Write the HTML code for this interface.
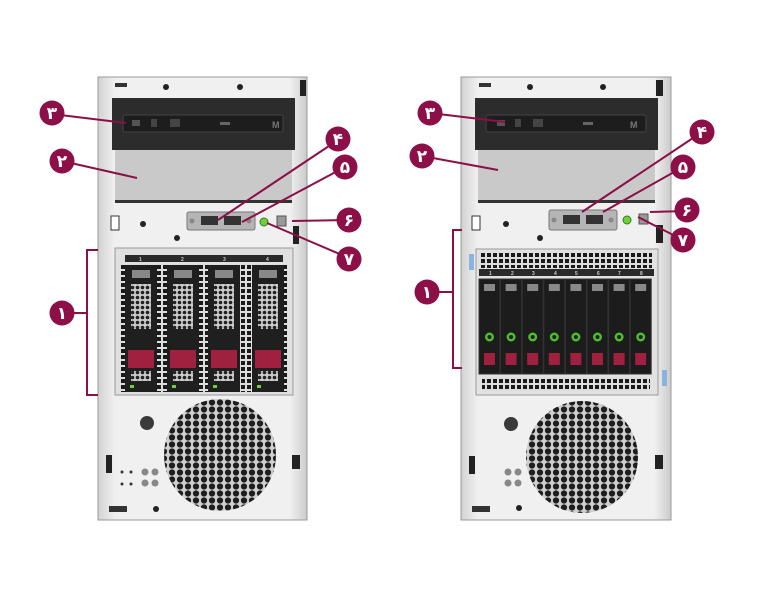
<!DOCTYPE html>
<html><head><meta charset="utf-8"><style>
html,body{margin:0;padding:0;background:#fff;width:768px;height:614px;overflow:hidden}
svg text{font-family:"Liberation Sans","DejaVu Sans",sans-serif;font-weight:bold}
</style></head><body>
<svg width="768" height="614" viewBox="0 0 768 614" xmlns="http://www.w3.org/2000/svg">
<defs>
<pattern id="fanholes" width="8" height="7" patternUnits="userSpaceOnUse">
<rect width="8" height="7" fill="#cfcfcf"/>
<circle cx="4" cy="3.5" r="3.1" fill="#1e1e1e"/>
</pattern>
<pattern id="grill" width="6" height="6" patternUnits="userSpaceOnUse">
<rect width="6" height="6" fill="#ddd"/>
<rect x="1" y="1" width="4" height="4" fill="#1a1a1a"/>
</pattern>
<pattern id="hex" width="5" height="5" patternUnits="userSpaceOnUse">
<rect width="5" height="5" fill="#ccc"/>
<circle cx="2.5" cy="2.5" r="1.8" fill="#222"/>
</pattern>
<linearGradient id="chassis" x1="0" x2="1">
<stop offset="0" stop-color="#d2d2d2"/><stop offset="0.08" stop-color="#f0f0f0"/><stop offset="0.92" stop-color="#f0f0f0"/><stop offset="1" stop-color="#cbcbcb"/>
</linearGradient>
</defs>

<!-- LEFT SERVER -->
<g>
<rect x="98" y="77" width="209" height="443" fill="url(#chassis)" stroke="#9a9a9a"/>
<rect x="300" y="80" width="6" height="16" fill="#222"/>
<rect x="115" y="83" width="12" height="4" fill="#333"/>
<circle cx="166" cy="87" r="3" fill="#222"/><circle cx="240" cy="87" r="3" fill="#222"/>
<rect x="112" y="98" width="183" height="52" fill="#2c2c2c"/>
<rect x="123" y="115" width="160" height="17" rx="2" fill="#1d1d1d" stroke="#444"/>
<text x="272" y="128" font-size="9" fill="#777" font-weight="normal">M</text>
<rect x="132" y="120" width="8" height="6" fill="#555"/><rect x="151" y="119" width="6" height="8" fill="#444"/><rect x="170" y="119" width="10" height="8" fill="#444"/>
<rect x="220" y="122" width="10" height="3" fill="#666"/>
<rect x="115" y="150" width="177" height="52" fill="#c9c9c9"/>
<rect x="115" y="200" width="177" height="3" fill="#333"/>
<rect x="111" y="216" width="8" height="14" fill="#fff" stroke="#333"/>
<circle cx="143" cy="224" r="3" fill="#222"/><circle cx="177" cy="238" r="3" fill="#222"/>
<rect x="187" y="212" width="68" height="18" rx="2" fill="#b5b5b5" stroke="#777"/>
<rect x="201" y="216" width="17" height="9" fill="#333"/><rect x="224" y="216" width="17" height="9" fill="#333"/>
<circle cx="192" cy="221" r="2.5" fill="#888"/><circle cx="249" cy="221" r="2.5" fill="#888"/>
<circle cx="264" cy="222" r="4" fill="#6dd23a" stroke="#3a7a20"/>
<rect x="277" y="216" width="9" height="10" fill="#999" stroke="#555"/>
<rect x="293" y="226" width="6" height="18" fill="#222"/>
<rect x="115" y="248" width="178" height="147" fill="#e0e0e0" stroke="#999"/>
<rect x="125" y="255" width="158" height="7" fill="#2a2a2a"/>
<g font-size="5" fill="#ccc" font-weight="normal"><text x="139" y="261">1</text><text x="181" y="261">2</text><text x="223" y="261">3</text><text x="266" y="261">4</text></g>
<rect x="120" y="264" width="168" height="128" fill="url(#grill)"/>
<g id="d4">
<rect x="125" y="265" width="32" height="127" fill="#1f1f1f"/>
<rect x="132" y="270" width="18" height="8" fill="#888"/>
<rect x="131" y="284" width="20" height="45" fill="url(#hex)"/>
<rect x="128" y="350" width="26" height="18" fill="#a0213f"/>
<rect x="131" y="371" width="20" height="10" fill="url(#hex)"/>
<rect x="130" y="385" width="4" height="3" fill="#6dd23a"/>
</g>
<use href="#d4" x="42"/><use href="#d4" x="83"/><use href="#d4" x="127"/>
<circle cx="220" cy="455" r="56" fill="url(#fanholes)"/>
<circle cx="147" cy="423" r="7" fill="#3a3a3a"/>
<rect x="106" y="455" width="6" height="18" fill="#222"/>
<rect x="292" y="455" width="8" height="14" fill="#222"/>
<g fill="#888"><circle cx="145" cy="472" r="3.5"/><circle cx="155" cy="472" r="3.5"/><circle cx="145" cy="483" r="3.5"/><circle cx="155" cy="483" r="3.5"/></g>
<g fill="#333"><circle cx="122" cy="472" r="1.5"/><circle cx="131" cy="472" r="1.5"/><circle cx="122" cy="484" r="1.5"/><circle cx="131" cy="484" r="1.5"/></g>
<rect x="109" y="506" width="18" height="6" fill="#333"/>
<circle cx="156" cy="509" r="3" fill="#222"/>
</g>

<!-- RIGHT SERVER -->
<g>
<rect x="461" y="77" width="210" height="443" fill="url(#chassis)" stroke="#9a9a9a"/>
<rect x="656" y="80" width="7" height="16" fill="#222"/>
<rect x="479" y="83" width="12" height="4" fill="#333"/>
<circle cx="530" cy="87" r="3" fill="#222"/><circle cx="603" cy="87" r="3" fill="#222"/>
<rect x="475" y="98" width="183" height="52" fill="#2c2c2c"/>
<rect x="486" y="115" width="160" height="17" rx="2" fill="#1d1d1d" stroke="#444"/>
<text x="630" y="128" font-size="9" fill="#777" font-weight="normal">M</text>
<rect x="497" y="120" width="8" height="6" fill="#555"/><rect x="515" y="119" width="6" height="8" fill="#444"/><rect x="533" y="119" width="10" height="8" fill="#444"/>
<rect x="583" y="122" width="10" height="3" fill="#666"/>
<rect x="478" y="150" width="177" height="52" fill="#c9c9c9"/>
<rect x="478" y="200" width="177" height="3" fill="#333"/>
<rect x="472" y="216" width="8" height="14" fill="#fff" stroke="#333"/>
<circle cx="506" cy="224" r="3" fill="#222"/><circle cx="540" cy="238" r="3" fill="#222"/>
<rect x="549" y="210" width="68" height="20" rx="2" fill="#b5b5b5" stroke="#777"/>
<rect x="563" y="215" width="17" height="9" fill="#333"/><rect x="586" y="215" width="17" height="9" fill="#333"/>
<circle cx="554" cy="220" r="2.5" fill="#888"/><circle cx="611" cy="220" r="2.5" fill="#888"/>
<circle cx="627" cy="220" r="4" fill="#6dd23a" stroke="#3a7a20"/>
<rect x="639" y="214" width="9" height="10" fill="#999" stroke="#555"/>
<rect x="656" y="225" width="7" height="18" fill="#222"/>
<rect x="476" y="249" width="182" height="146" fill="#e2e2e2" stroke="#999"/>
<rect x="469" y="254" width="5" height="16" fill="#8ab4e0"/>
<rect x="662" y="370" width="5" height="16" fill="#8ab4e0"/>
<rect x="480" y="253" width="172" height="15" fill="url(#grill)"/>
<rect x="479" y="269" width="175" height="7" fill="#2a2a2a"/>
<g font-size="5" fill="#ccc" font-weight="normal">
<text x="489" y="275">1</text><text x="511" y="275">2</text><text x="532" y="275">3</text><text x="554" y="275">4</text><text x="575" y="275">5</text><text x="597" y="275">6</text><text x="618" y="275">7</text><text x="640" y="275">8</text></g>
<g id="s8">
<rect x="479" y="279" width="21" height="95" fill="#1c1c1c" stroke="#333"/>
<rect x="484" y="284" width="11" height="7" fill="#888"/>
<circle cx="489.5" cy="337" r="4.5" fill="#4cbf2a"/><circle cx="489.5" cy="337" r="2" fill="#1c1c1c"/>
<rect x="484" y="353" width="11" height="12" fill="#a0213f"/>
</g>
<use href="#s8" x="21.6"/><use href="#s8" x="43.2"/><use href="#s8" x="64.8"/><use href="#s8" x="86.4"/><use href="#s8" x="108"/><use href="#s8" x="129.6"/><use href="#s8" x="151.2"/>
<rect x="482" y="377" width="168" height="14" fill="url(#grill)"/>
<circle cx="582" cy="457" r="56" fill="url(#fanholes)"/>
<circle cx="511" cy="424" r="7" fill="#3a3a3a"/>
<rect x="469" y="456" width="6" height="18" fill="#222"/>
<rect x="655" y="455" width="8" height="14" fill="#222"/>
<g fill="#888"><circle cx="508" cy="472" r="3.5"/><circle cx="518" cy="472" r="3.5"/><circle cx="508" cy="483" r="3.5"/><circle cx="518" cy="483" r="3.5"/></g>
<rect x="472" y="506" width="18" height="6" fill="#333"/>
<circle cx="519" cy="508" r="3" fill="#222"/>
</g>

<!-- CALLOUTS -->
<g stroke="#8c0f47" stroke-width="2" fill="none">
<line x1="52" y1="114" x2="126" y2="123"/>
<line x1="62" y1="161" x2="137" y2="178"/>
<line x1="338" y1="140" x2="218" y2="220"/>
<line x1="345" y1="167" x2="242" y2="222"/>
<line x1="349" y1="220" x2="292" y2="221"/>
<line x1="349" y1="258" x2="267" y2="223"/>
<polyline points="87,250 98,250"/><polyline points="87,395 98,395"/><line x1="87" y1="249" x2="87" y2="396"/><line x1="62" y1="313" x2="87" y2="313"/>
<line x1="430" y1="113" x2="505" y2="122"/>
<line x1="422" y1="156" x2="498" y2="170"/>
<line x1="702" y1="132" x2="582" y2="212"/>
<line x1="683" y1="167" x2="603" y2="212"/>
<line x1="687" y1="211" x2="650" y2="212"/>
<line x1="683" y1="240" x2="638" y2="217"/>
<line x1="453" y1="230" x2="462" y2="230"/><line x1="453" y1="368" x2="462" y2="368"/><line x1="453" y1="229" x2="453" y2="369"/><line x1="427" y1="292" x2="453" y2="292"/>
</g>
<g fill="#8c0f47">
<circle cx="52" cy="113" r="12.5"/><circle cx="62" cy="161" r="12.5"/><circle cx="338" cy="139" r="12.5"/><circle cx="345" cy="167" r="12.5"/><circle cx="349" cy="220" r="12.5"/><circle cx="349" cy="259" r="12.5"/><circle cx="62" cy="313" r="12.5"/>
<circle cx="430" cy="113" r="12.5"/><circle cx="422" cy="156" r="12.5"/><circle cx="702" cy="132" r="12.5"/><circle cx="683" cy="167" r="12.5"/><circle cx="687" cy="210" r="12.5"/><circle cx="683" cy="240" r="12.5"/><circle cx="427" cy="292" r="12.5"/>
</g>
<g fill="#fff" font-size="17" text-anchor="middle" font-family="'DejaVu Sans',sans-serif">
<text x="52" y="119">۳</text><text x="62" y="167">۲</text><text x="338" y="145">۴</text><text x="345" y="173">۵</text><text x="349" y="226">۶</text><text x="349" y="265">۷</text><text x="62" y="319">۱</text>
<text x="430" y="119">۳</text><text x="422" y="162">۲</text><text x="702" y="138">۴</text><text x="683" y="173">۵</text><text x="687" y="216">۶</text><text x="683" y="246">۷</text><text x="427" y="298">۱</text>
</g>
</svg>
</body></html>
